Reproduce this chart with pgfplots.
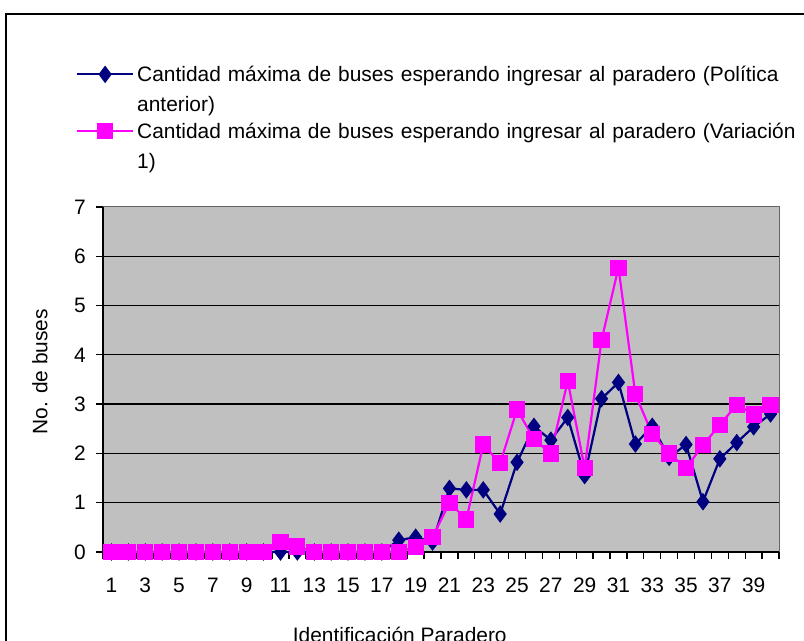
\documentclass[border=0pt]{standalone}
\usepackage{fontspec}
\setmainfont{Liberation Sans}
\usepackage{pgfplots}
\usepackage{pgfplotstable}
\pgfplotsset{compat=1.18}

\definecolor{navyx}{HTML}{000080}
\definecolor{fuchx}{HTML}{FF00FF}
\definecolor{silverx}{HTML}{C0C0C0}

% id, anterior (politica anterior), var1 (variacion 1)
\pgfplotstableread{
id anterior var1
1  0    0
2  0    0
3  0    0
4  0    0
5  0    0
6  0    0
7  0    0
8  0    0
9  0    0
10 0    0
11 0    0.20
12 0    0.11
13 0    0
14 0    0
15 0    0
16 0    0
17 0    0
18 0.24 0
19 0.30 0.10
20 0.20 0.30
21 1.29 1.00
22 1.26 0.66
23 1.26 2.18
24 0.77 1.80
25 1.82 2.89
26 2.55 2.29
27 2.27 2.00
28 2.73 3.47
29 1.55 1.70
30 3.11 4.30
31 3.44 5.77
32 2.19 3.20
33 2.55 2.39
34 1.92 2.00
35 2.18 1.70
36 1.02 2.17
37 1.89 2.58
38 2.22 2.99
39 2.54 2.79
40 2.80 2.99
}\buses

\begin{document}
\begin{tikzpicture}[x=1bp,y=1bp]
\useasboundingbox (0,0) rectangle (804,641);
\draw[line width=2bp] (6,-20) -- (6,627) -- (840,627);
\begin{axis}[
  at={(103bp,89bp)}, anchor=south west,
  scale only axis, width=676bp, height=345bp,
  font=\fontsize{20.9bp}{30.5bp}\selectfont,
  /pgf/number format/assume math mode=true,
  xmin=0.5, xmax=40.5, ymin=0, ymax=7,
  axis background/.style={fill=silverx, draw=gray!80!black, line width=1bp},
  axis x line*=bottom, axis y line*=left,
  axis line style={black, line width=1.6bp},
  clip=false,
  tick align=outside,
  xtick={1,3,...,39},
  minor xtick={0.5,1.5,...,40.5},
  major x tick style={draw=none},
  minor x tick style={black, line width=1.3bp},
  minor tick length=7bp,
  ytick={0,...,6}, extra y ticks={7},
  extra y tick style={grid=none},
  major tick length=7bp,
  y tick style={black, line width=1.3bp},
  ymajorgrids,
  grid style={black, line width=1.3bp},
  xticklabel style={anchor=north, inner sep=0pt, yshift=-19bp},
  yticklabel style={anchor=east, inner sep=0pt, xshift=-10bp},
  xlabel={Identificación Paradero},
  ylabel={No. de buses},
  xlabel style={at={(rel axis cs:0.439,-0.261)}, anchor=base},
  ylabel style={at={(rel axis cs:-0.0932,0.523)}, anchor=center, rotate=0},
  legend style={at={(rel axis cs:-0.0399,1.4087)}, anchor=north west,
    draw=none, fill=none, inner sep=0pt, outer sep=0pt,
    row sep=40bp, column sep=3bp,
    nodes={anchor=base west, text width=672bp, align=left, inner sep=0pt}},
  legend cell align=left,
  legend image code/.code={
    \draw[mark repeat=2, mark phase=2] plot coordinates {(0bp,7bp) (28bp,7bp) (56bp,7bp)};
  },
]
\addplot[navyx, line width=2.2bp, mark=diamond*, mark size=7bp,
  mark options={solid, fill=navyx, draw=navyx}] table[x=id, y=anterior] {\buses};
\addlegendentry{Cantidad máxima de buses esperando ingresar al paradero (Política anterior)}
\addplot[fuchx, line width=2.2bp, mark=square*, mark size=7bp,
  mark options={solid, fill=fuchx, draw=fuchx}] table[x=id, y=var1] {\buses};
\addlegendentry{Cantidad máxima de buses esperando ingresar al paradero (Variación 1)}
\end{axis}
\end{tikzpicture}
\end{document}
